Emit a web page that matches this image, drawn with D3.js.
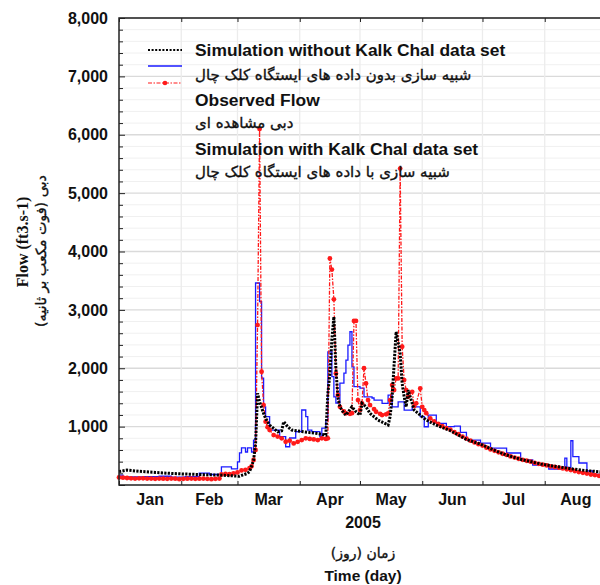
<!DOCTYPE html>
<html>
<head>
<meta charset="utf-8">
<script src="https://cdn.jsdelivr.net/npm/d3@7"></script>
<style>
  html, body { margin: 0; padding: 0; background: #fff; }
  svg { display: block; }
</style>
</head>
<body>
<div id="chart"></div>
<script>
// day offsets from 1 Jan 2005 and flow values (ft3/s)
const simWithoutDays = [0, 4, 10, 18, 25, 31, 40, 50, 55, 60, 64, 65, 67, 68, 69, 70, 72, 73, 75, 77, 79, 81, 82, 84, 86, 92, 98, 103, 104, 105, 106, 107, 108, 109, 110, 112, 113, 116, 118, 120, 121, 123, 125, 129, 134, 135, 136, 138, 140, 141, 142, 143, 144, 146, 147, 150, 153, 158, 165, 173, 180, 188, 193, 200, 210, 218, 226, 233, 239, 243];
const simWithoutFlow = [230, 255, 235, 215, 200, 190, 180, 170, 160, 150, 200, 230, 420, 700, 1570, 1426, 1227, 1141, 1027, 970, 912, 930, 1084, 998, 941, 912, 885, 856, 1570, 1900, 2500, 2881, 2000, 1500, 1340, 1227, 1198, 1340, 1255, 1198, 1398, 1340, 1227, 1113, 1027, 1170, 1512, 2625, 2254, 1740, 1511, 1340, 1626, 1398, 1284, 1198, 1113, 1027, 930, 780, 700, 580, 514, 440, 360, 315, 274, 245, 228, 220];

const simWithDays = [0, 2, 12, 20, 26, 33, 40, 45, 51, 56, 59, 60, 61, 63, 64, 66, 67, 68, 70, 71, 72, 73, 75, 80, 83, 85, 88, 91, 93, 94, 96, 100, 101, 103, 104, 106, 107, 108, 110, 112, 113, 114, 115, 116, 117, 120, 122, 126, 127, 131, 134, 136, 139, 142, 146, 150, 152, 154, 158, 163, 167, 170, 173, 180, 185, 193, 200, 206, 214, 221, 222, 223, 225, 226, 229, 233, 236, 243];
const simWithFlow = [170, 140, 145, 150, 135, 145, 205, 180, 310, 275, 395, 550, 635, 565, 635, 565, 770, 3460, 3140, 1830, 1340, 1170, 940, 830, 655, 805, 915, 1285, 1170, 940, 915, 830, 975, 1115, 2280, 1855, 1510, 1405, 1745, 1915, 2140, 2395, 2625, 2025, 1685, 1660, 1510, 1490, 1455, 1400, 1540, 1340, 1425, 1284, 1340, 1170, 998, 1198, 1056, 1000, 1010, 900, 770, 719, 633, 548, 428, 342, 274, 274, 462, 300, 758, 485, 377, 240, 180, 154];

const observedDays = [0, 2, 4, 6, 8, 10, 12, 14, 16, 18, 20, 22, 24, 26, 28, 30, 32, 34, 36, 38, 40, 42, 44, 46, 48, 50, 51, 53, 55, 57, 59, 61, 63, 65, 66, 67, 68, 69, 70, 71, 72, 73, 74, 75, 77, 79, 81, 83, 85, 87, 89, 91, 93, 95, 97, 99, 101, 103, 104, 105, 106, 107, 108, 109, 110, 112, 113, 115, 116, 117, 118, 119, 120, 121, 122, 123, 124, 125, 127, 128, 130, 131, 133, 134, 135, 136, 137, 138, 139, 140, 141, 142, 143, 144, 146, 147, 148, 150, 151, 152, 153, 155, 157, 159, 161, 163, 165, 167, 169, 171, 173, 175, 177, 179, 181, 183, 185, 187, 189, 191, 193, 195, 197, 199, 201, 203, 205, 207, 209, 211, 213, 215, 217, 219, 221, 223, 225, 227, 229, 231, 233, 235, 237, 239, 241, 243];
const observedFlow = [130, 125, 120, 115, 110, 115, 115, 110, 110, 105, 110, 108, 105, 110, 108, 100, 105, 108, 110, 105, 108, 110, 105, 100, 105, 110, 180, 190, 185, 200, 215, 250, 260, 290, 320, 430, 600, 2740, 6100, 1940, 1370, 1084, 990, 941, 856, 830, 800, 741, 760, 713, 740, 770, 799, 790, 780, 770, 799, 790, 800, 3880, 3690, 3180, 1910, 1540, 1340, 1260, 1227, 1220, 1230, 2810, 2810, 1455, 1284, 1400, 2000, 1740, 1455, 1370, 1300, 1255, 1220, 1198, 1210, 1227, 1455, 1712, 1626, 1826, 1826, 5420, 2368, 1798, 1626, 1512, 1597, 1352, 1400, 1655, 1340, 1284, 1230, 1141, 1090, 1045, 1010, 975, 950, 905, 870, 830, 795, 760, 730, 700, 675, 640, 610, 585, 560, 535, 515, 490, 470, 450, 432, 415, 400, 380, 362, 348, 335, 320, 308, 296, 284, 270, 255, 240, 222, 208, 195, 180, 170, 158, 150, 145];

const monthLabels = ["Jan", "Feb", "Mar", "Apr", "May", "Jun", "Jul", "Aug"];
const yTicks = [1000, 2000, 3000, 4000, 5000, 6000, 7000, 8000];

const legendEntries = [
  { text: "Simulation without Kalk Chal data set", fa: false },
  { text: "شبیه سازی بدون داده های ایستگاه کلک چال", fa: true },
  { text: "Observed Flow", fa: false },
  { text: "دبی مشاهده ای", fa: true },
  { text: "Simulation with Kalk Chal data set", fa: false },
  { text: "شبیه سازی با داده های ایستگاه کلک چال", fa: true },
];

const width = 600;
const height = 585;
const plot = { left: 119, right: 607, top: 18, bottom: 485 };
const t0 = Date.UTC(2005, 0, 1);
const toDate = (d) => new Date(t0 + d * 864e5);
const latin = "Liberation Sans, Arial, sans-serif";
const persian = "DejaVu Sans, sans-serif";

const svg = d3
  .select("#chart")
  .append("svg")
  .attr("width", width)
  .attr("height", height);

const x = d3
  .scaleUtc()
  .domain([toDate(0), toDate(243)])
  .range([plot.left, plot.right]);

const y = d3
  .scaleLinear()
  .domain([0, 8000])
  .range([plot.bottom, plot.top]);

const monthStarts = d3.utcMonth.range(toDate(0), toDate(244));

// grid
const grid = svg.append("g");
grid
  .selectAll(".minor")
  .data(d3.range(200, 8000, 200).filter((v) => v % 1000 !== 0))
  .enter()
  .append("line")
  .attr("x1", plot.left)
  .attr("x2", plot.right)
  .attr("y1", (d) => y(d))
  .attr("y2", (d) => y(d))
  .attr("stroke", "#f0f0f0");
grid
  .selectAll(".major")
  .data(yTicks)
  .enter()
  .append("line")
  .attr("x1", plot.left)
  .attr("x2", plot.right)
  .attr("y1", (d) => y(d))
  .attr("y2", (d) => y(d))
  .attr("stroke", "#dadada")
  .attr("stroke-width", 1.3);
grid
  .selectAll(".vert")
  .data(monthStarts.slice(1))
  .enter()
  .append("line")
  .attr("x1", (d) => x(d))
  .attr("x2", (d) => x(d))
  .attr("y1", plot.top)
  .attr("y2", plot.bottom)
  .attr("stroke", "#ececec")
  .attr("stroke-width", 1.3);

// series
const lineOf = (days, flow, curve) =>
  d3
    .line()
    .x((d, i) => x(toDate(days[i])))
    .y((d) => y(d))
    .curve(curve)(flow);

svg
  .append("path")
  .attr("d", lineOf(simWithDays, simWithFlow, d3.curveStepAfter))
  .attr("fill", "none")
  .attr("stroke", "#1a1aff")
  .attr("stroke-width", 1.3);

const obs = svg.append("g");
obs
  .append("path")
  .attr("d", lineOf(observedDays, observedFlow, d3.curveLinear))
  .attr("fill", "none")
  .attr("stroke", "#ff1a1a")
  .attr("stroke-width", 1.3)
  .attr("stroke-dasharray", "4,1.5,1.5,1.5");
obs
  .selectAll("circle")
  .data(observedFlow)
  .enter()
  .append("circle")
  .attr("cx", (d, i) => x(toDate(observedDays[i])))
  .attr("cy", (d) => y(d))
  .attr("r", 2.4)
  .attr("fill", "#ff1a1a");

svg
  .append("path")
  .attr("d", lineOf(simWithoutDays, simWithoutFlow, d3.curveLinear))
  .attr("fill", "none")
  .attr("stroke", "#000")
  .attr("stroke-width", 3)
  .attr("stroke-dasharray", "2.2,1.3");

// axes
svg
  .append("g")
  .attr("transform", `translate(${plot.left},0)`)
  .call(d3.axisLeft(y).tickValues(d3.range(0, 8001, 200)).tickSize(0).tickFormat(""))
  .call((g) => g.select(".domain").remove())
  .call((g) =>
    g
      .selectAll(".tick line")
      .attr("x2", (d) => (d % 1000 === 0 ? 6 : 4))
      .attr("stroke", "#222")
  );

svg
  .append("g")
  .attr("transform", `translate(${plot.left - 11},0)`)
  .call(d3.axisLeft(y).tickValues(yTicks).tickSize(0).tickFormat(d3.format(",")))
  .call((g) => g.select(".domain").remove())
  .call((g) =>
    g
      .selectAll("text")
      .attr("x", 0)
      .attr("font-family", latin)
      .attr("font-weight", "bold")
      .attr("font-size", 16)
      .attr("fill", "#111")
  );

svg
  .append("g")
  .attr("transform", `translate(0,${plot.bottom})`)
  .call(d3.axisBottom(x).tickValues(monthStarts).tickSizeInner(-4).tickSizeOuter(0).tickFormat(""))
  .call((g) => g.select(".domain").remove())
  .call((g) => g.selectAll(".tick line").attr("stroke", "#222"));

svg
  .append("g")
  .attr("transform", `translate(0,${plot.top})`)
  .call(d3.axisTop(x).tickValues(monthStarts).tickSizeInner(-4).tickSizeOuter(0).tickFormat(""))
  .call((g) => g.select(".domain").remove())
  .call((g) => g.selectAll(".tick line").attr("stroke", "#222"));

// month labels centred between month starts
svg
  .append("g")
  .selectAll("text")
  .data(monthLabels)
  .enter()
  .append("text")
  .attr("x", (d, i) => (x(monthStarts[i]) + x(d3.utcMonth.offset(monthStarts[i], 1))) / 2)
  .attr("y", 505)
  .attr("text-anchor", "middle")
  .attr("font-family", latin)
  .attr("font-weight", "bold")
  .attr("font-size", 16)
  .attr("fill", "#111")
  .text((d) => d);

// frame
svg
  .append("path")
  .attr("d", `M${plot.right},${plot.top}H${plot.left}V${plot.bottom}H${plot.right}`)
  .attr("fill", "none")
  .attr("stroke", "#222")
  .attr("stroke-width", 1.5);

// axis titles
const midX = (plot.left + plot.right) / 2;
svg
  .append("text")
  .attr("x", midX)
  .attr("y", 528)
  .attr("text-anchor", "middle")
  .attr("font-family", latin)
  .attr("font-weight", "bold")
  .attr("font-size", 16)
  .attr("fill", "#111")
  .text("2005");
svg
  .append("text")
  .attr("x", midX)
  .attr("y", 558)
  .attr("text-anchor", "middle")
  .attr("font-family", persian)
  .attr("font-size", 14)
  .attr("fill", "#111")
  .attr("stroke", "#111")
  .attr("stroke-width", 0.35)
  .text("زمان (روز)");
svg
  .append("text")
  .attr("x", midX)
  .attr("y", 581)
  .attr("text-anchor", "middle")
  .attr("font-family", latin)
  .attr("font-weight", "bold")
  .attr("font-size", 15.5)
  .attr("fill", "#111")
  .text("Time (day)");

svg
  .append("text")
  .attr("transform", "translate(28,242) rotate(-90)")
  .attr("text-anchor", "middle")
  .attr("font-family", "Liberation Serif, Times New Roman, serif")
  .attr("font-weight", "bold")
  .attr("font-size", 16)
  .attr("fill", "#111")
  .text("Flow (ft3.s-1)");
svg
  .append("text")
  .attr("transform", "translate(46,251) rotate(-90)")
  .attr("text-anchor", "middle")
  .attr("font-family", persian)
  .attr("font-size", 14.3)
  .attr("fill", "#111")
  .attr("stroke", "#111")
  .attr("stroke-width", 0.35)
  .text("دبی (فوت مکعب بر ثانیه)");

// legend
const legend = svg.append("g");
const legX = 148;
legend
  .append("line")
  .attr("x1", legX).attr("x2", legX + 34)
  .attr("y1", 50).attr("y2", 50)
  .attr("stroke", "#000")
  .attr("stroke-width", 2)
  .attr("stroke-dasharray", "2,1.6");
legend
  .append("line")
  .attr("x1", legX).attr("x2", legX + 34)
  .attr("y1", 66).attr("y2", 66)
  .attr("stroke", "#1a1aff")
  .attr("stroke-width", 1.3);
legend
  .append("line")
  .attr("x1", legX).attr("x2", legX + 34)
  .attr("y1", 83).attr("y2", 83)
  .attr("stroke", "#ff1a1a")
  .attr("stroke-width", 1.2)
  .attr("stroke-dasharray", "4,1.5,1.5,1.5");
legend
  .append("circle")
  .attr("cx", legX + 17)
  .attr("cy", 83)
  .attr("r", 2.3)
  .attr("fill", "#ff1a1a");

const legendY = [56, 80, 106, 128, 155, 177];
legend
  .selectAll("text")
  .data(legendEntries)
  .enter()
  .append("text")
  .attr("x", 195)
  .attr("y", (d, i) => legendY[i])
  .attr("font-family", (d) => (d.fa ? persian : latin))
  .attr("font-weight", (d) => (d.fa ? "normal" : "bold"))
  .attr("font-size", (d) => (d.fa ? 15 : 17.4))
  .attr("fill", "#111")
  .attr("stroke", (d) => (d.fa ? "#111" : "none"))
  .attr("stroke-width", 0.35)
  .text((d) => d.text);
</script>
</body>
</html>
